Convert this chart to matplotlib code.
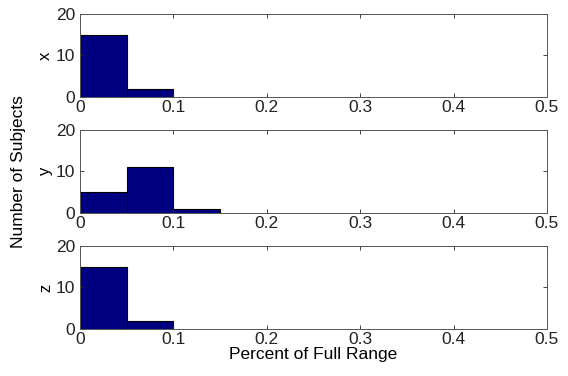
import numpy as np
from matplotlib import pyplot as plt

plt.rcParams['font.family'] = ['Liberation Sans', 'DejaVu Sans']

# histogram counts per 0.05 bin
bin_edges = [0.0, 0.05, 0.10, 0.15]
x_counts = [15, 2, 0]
y_counts = [5, 11, 1]
z_counts = [15, 2, 0]
names = ["x", "y", "z"]
xticks = [0, 0.1, 0.2, 0.3, 0.4, 0.5]
yticks = [0, 10, 20]

fig = plt.figure(figsize=(5.68, 3.76), dpi=100)
bottoms = [0.742, 0.434, 0.125]
axes = []
for b in bottoms:
    axes.append(fig.add_axes([0.141, b, 0.822, 0.221]))

for ax, counts, nm in zip(axes, [x_counts, y_counts, z_counts], names):
    left = np.array(bin_edges[:-1])
    w = np.diff(bin_edges)
    c = np.array(counts)
    keep = c > 0  # empty bins draw nothing
    ax.bar(left[keep], c[keep], width=w[keep], align='edge',
           color='#000080', edgecolor='black', linewidth=0.8)
    ax.set_xlim(0, 0.5)
    ax.set_ylim(0, 20)
    ax.set_xticks(xticks)
    ax.set_xticklabels([str(t) for t in xticks])
    ax.set_yticks(yticks)
    ax.tick_params(direction='in', top=True, right=True, labelsize=12.5,
                   length=3, width=0.6, colors='#222222')
    ax.tick_params(axis='x', pad=2.5)
    ax.tick_params(axis='y', pad=3.5)
    for s in ax.spines.values():
        s.set_linewidth(0.7)
        s.set_color('#555555')
    ax.set_ylabel(nm, fontsize=12, labelpad=2)

axes[2].set_xlabel("Percent of Full Range", fontsize=12.5, labelpad=0)
fig.text(0.032, 0.543, "Number of Subjects", rotation=90, fontsize=12.5,
         ha='center', va='center')

plt.savefig("out.png", dpi=100)
